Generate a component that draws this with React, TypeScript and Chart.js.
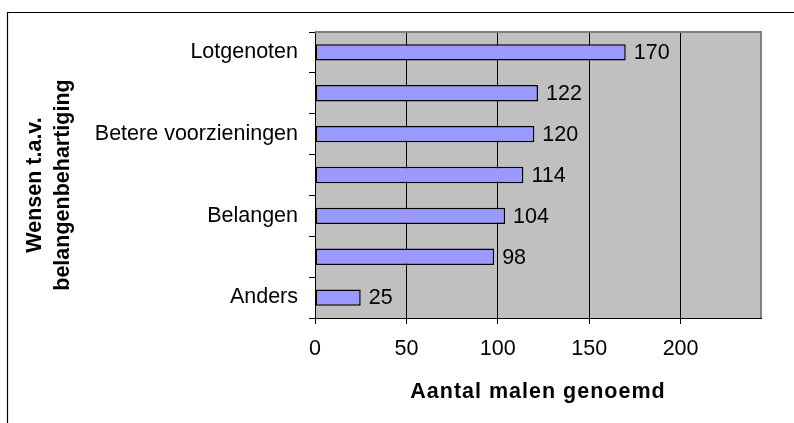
import { useEffect, useRef } from "react";
import { Chart, registerables } from "chart.js";

Chart.register(...registerables);

const categories = ["Lotgenoten", "", "Betere voorzieningen", "", "Belangen", "", "Anders"];
const values = [170, 122, 120, 114, 104, 98, 25];
const xTickValues = [0, 50, 100, 150, 200];
const xMin = 0;
const xMax = 244;
const yTitleLines = ["Wensen t.a.v.", "belangenbehartiging"];
const xTitleText = "Aantal malen genoemd";

const FAMILY = "'Liberation Sans', Arial, sans-serif";
const FS = 21.5;

const decor = {
  id: "decor",
  beforeDraw(chart: any) {
    const { ctx, chartArea: a } = chart;
    ctx.save();
    ctx.fillStyle = "#ffffff";
    ctx.fillRect(0, 0, chart.width, chart.height);
    ctx.fillStyle = "#C0C0C0";
    ctx.fillRect(a.left, a.top, a.right - a.left, a.bottom - a.top);
    ctx.strokeStyle = "#000000";
    ctx.lineWidth = 1.2;
    ctx.beginPath();
    ctx.moveTo(7.5, chart.height);
    ctx.lineTo(7.5, 12.5);
    ctx.lineTo(chart.width, 12.5);
    ctx.stroke();
    ctx.restore();
  },
  beforeDatasetsDraw(chart: any) {
    const { ctx, chartArea: a } = chart;
    ctx.save();
    ctx.strokeStyle = "#808080";
    ctx.lineWidth = 2;
    ctx.beginPath();
    ctx.moveTo(a.left, a.top);
    ctx.lineTo(a.right, a.top);
    ctx.lineTo(a.right, a.bottom);
    ctx.stroke();
    ctx.restore();
  },
  afterDatasetsDraw(chart: any) {
    const { ctx } = chart;
    const meta = chart.getDatasetMeta(0);
    ctx.save();
    ctx.fillStyle = "#000000";
    ctx.font = `${FS}px ${FAMILY}`;
    ctx.textAlign = "left";
    ctx.textBaseline = "middle";
    meta.data.forEach((bar: any, i: number) => {
      ctx.fillText(String(values[i]), bar.x + 8, bar.y + 1);
    });
    ctx.restore();
  },
  afterDraw(chart: any) {
    const { ctx, chartArea: a } = chart;
    ctx.save();
    ctx.fillStyle = "#000000";
    ctx.font = `bold ${FS}px ${FAMILY}`;
    ctx.textAlign = "center";
    ctx.textBaseline = "middle";
    (ctx as any).letterSpacing = "1px";
    ctx.fillText(xTitleText, (a.left + a.right) / 2, 392);
    (ctx as any).letterSpacing = "0px";
    ctx.translate(49, 185);
    ctx.rotate(-Math.PI / 2);
    ctx.fillText(yTitleLines[0], 0, -14);
    ctx.fillText(yTitleLines[1], 0, 14);
    ctx.restore();
  },
};

export default function App() {
  const ref = useRef<HTMLCanvasElement | null>(null);
  useEffect(() => {
    document.body.style.margin = "0";
    const canvas = ref.current!;
    const chart = new Chart(canvas, {
      type: "bar",
      data: {
        labels: categories,
        datasets: [
          {
            data: values,
            backgroundColor: "#9999FF",
            borderColor: "#000000",
            borderWidth: 1.5,
            borderSkipped: false,
            barPercentage: 0.4,
            categoryPercentage: 1,
          },
        ],
      },
      options: {
        indexAxis: "y",
        animation: false,
        responsive: false,
        maintainAspectRatio: false,
        layout: { padding: { top: 32, right: 33, left: 0, bottom: 0 } },
        plugins: {
          legend: { display: false },
          tooltip: { enabled: false },
          title: { display: false },
        },
        scales: {
          y: {
            type: "category",
            grid: {
              offset: true,
              drawOnChartArea: false,
              drawTicks: true,
              tickLength: 6,
              color: "#000000",
              lineWidth: 1,
            },
            border: { color: "#000000", width: 1 },
            ticks: {
              color: "#000000",
              font: { family: FAMILY, size: FS },
              padding: 11,
              autoSkip: false,
            },
            afterFit: (s: any) => {
              s.width = 315;
            },
          },
          x: {
            type: "linear",
            min: xMin,
            max: xMax,
            afterBuildTicks: (s: any) => {
              s.ticks = xTickValues.map((v) => ({ value: v }));
            },
            grid: {
              color: "#000000",
              lineWidth: 1,
              tickLength: 6,
              drawTicks: true,
            },
            border: { color: "#000000", width: 1 },
            ticks: {
              color: "#000000",
              font: { family: FAMILY, size: FS },
              padding: 12,
            },
            afterFit: (s: any) => {
              s.height = 105;
            },
          },
        },
      },
      plugins: [decor],
    });
    return () => chart.destroy();
  }, []);
  return (
    <div style={{ width: 794, height: 423 }}>
      <canvas ref={ref} width={794} height={423} style={{ display: "block" }} />
    </div>
  );
}
